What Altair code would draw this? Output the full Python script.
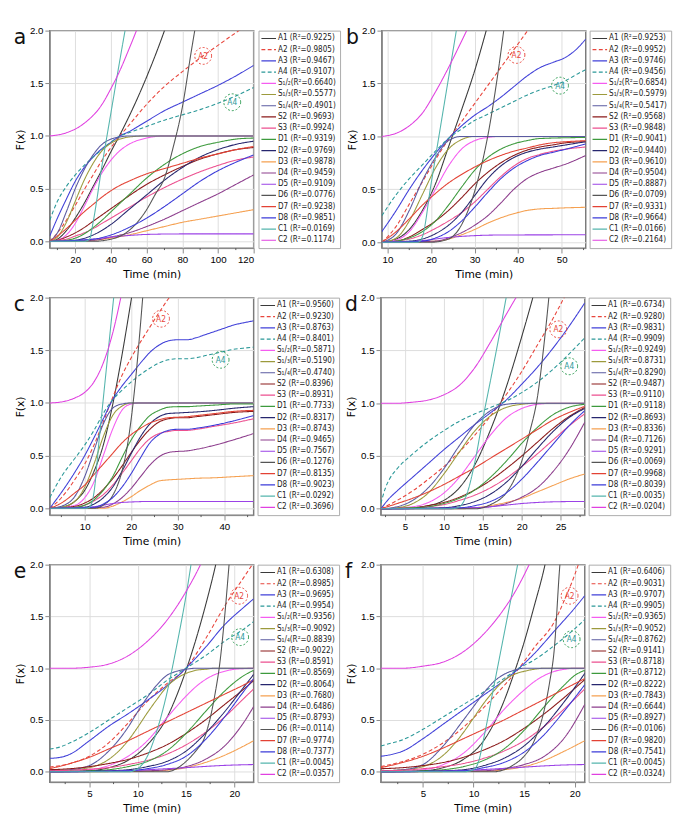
import altair as alt
import pandas as pd

FONT = "DejaVu Sans Condensed, Liberation Sans Narrow, DejaVu Sans, sans-serif"
W, H, LEGW = 210, 224, 84

SERIES = ["A1", "A2", "A3", "A4", "S1/2", "S1/3", "S1/4", "S2", "S3", "D1",
          "D2", "D3", "D4", "D5", "D6", "D7", "D8", "C1", "C2"]
COLORS = ["#3a3a3a", "#e8453c", "#4040d8", "#2a9898", "#f55cf0", "#9c9a3c",
          "#5a5aa0", "#8b1a1a", "#ec4f8f", "#3d9a3d", "#26266e", "#f5a050",
          "#8c3c8c", "#9b42e6", "#555555", "#e34234", "#3b3bd8", "#55b5ad", "#e040e0"]
DASHES = [[1, 0], [4, 2.5], [1, 0], [4, 2.5]] + [[1, 0]] * 15

R2_A = [0.9225, 0.9805, 0.9467, 0.9107, 0.6640, 0.5577, 0.4901, 0.9693, 0.9924, 0.9319,
        0.9769, 0.9878, 0.9459, 0.9109, 0.0776, 0.9238, 0.9851, 0.0169, 0.1174]
R2_B = [0.9253, 0.9952, 0.9746, 0.9456, 0.6854, 0.5979, 0.5417, 0.9568, 0.9848, 0.9041,
        0.9440, 0.9610, 0.9504, 0.8887, 0.0709, 0.9331, 0.9664, 0.0166, 0.2164]
R2_C = [0.9560, 0.9230, 0.8763, 0.8401, 0.5871, 0.5190, 0.4740, 0.8396, 0.8931, 0.7733,
        0.8317, 0.8743, 0.9465, 0.7567, 0.1276, 0.8135, 0.9023, 0.0292, 0.3696]
R2_D = [0.6734, 0.9280, 0.9831, 0.9909, 0.9249, 0.8731, 0.8290, 0.9487, 0.9110, 0.9118,
        0.8693, 0.8336, 0.7126, 0.9291, 0.0069, 0.9968, 0.8039, 0.0035, 0.0204]
R2_E = [0.6308, 0.8985, 0.9695, 0.9954, 0.9356, 0.9092, 0.8839, 0.9022, 0.8591, 0.8569,
        0.8064, 0.7680, 0.6486, 0.8793, 0.0114, 0.9774, 0.7377, 0.0045, 0.0357]
R2_F = [0.6406, 0.9031, 0.9707, 0.9905, 0.9365, 0.9052, 0.8762, 0.9141, 0.8718, 0.8712,
        0.8222, 0.7843, 0.6644, 0.8927, 0.0106, 0.9820, 0.7541, 0.0045, 0.0324]

CURVES_A = {
    "A1": [[5.7,0],[10,0.02],[15,0.1],[20,0.22],[25,0.36],[30,0.52],[35,0.68],[40,0.85],[45,1.01],[50,1.18],[60,1.56],[70,2.0],[75,2.25]],
    "A2": [[5.7,0],[10,0.08],[15,0.2],[20,0.34],[25,0.49],[30,0.63],[35,0.77],[40,0.89],[45,1.0],[50,1.1],[60,1.3],[70,1.47],[80,1.61],[90,1.74],[100,1.86],[110,1.98],[120,2.09]],
    "A3": [[5.7,0.05],[10,0.22],[15,0.4],[20,0.57],[25,0.7],[30,0.8],[35,0.88],[40,0.94],[45,1.0],[50,1.04],[60,1.14],[70,1.24],[80,1.32],[90,1.4],[100,1.48],[110,1.57],[120,1.67]],
    "A4": [[5.7,0.2],[10,0.38],[15,0.52],[20,0.63],[25,0.72],[30,0.8],[35,0.87],[40,0.94],[45,1.0],[50,1.03],[60,1.09],[70,1.15],[80,1.2],[90,1.25],[100,1.31],[110,1.38],[120,1.46]],
    "S1/2": [[5.7,0],[10,0.01],[15,0.06],[20,0.17],[25,0.33],[30,0.5],[35,0.65],[40,0.77],[45,0.86],[50,0.92],[60,0.98],[70,1.0],[120,1.0]],
    "S1/3": [[5.7,0],[10,0.04],[15,0.18],[20,0.38],[25,0.58],[30,0.74],[35,0.86],[40,0.93],[45,0.97],[50,0.99],[60,1.0],[120,1.0]],
    "S1/4": [[5.7,0],[10,0.08],[15,0.28],[20,0.5],[25,0.68],[30,0.82],[35,0.92],[40,0.97],[45,0.99],[50,1.0],[120,1.0]],
    "S2": [[5.7,0],[10,0.01],[15,0.04],[20,0.08],[25,0.13],[30,0.19],[35,0.25],[40,0.31],[45,0.37],[50,0.43],[60,0.54],[70,0.63],[80,0.71],[90,0.78],[100,0.83],[110,0.87],[120,0.89]],
    "S3": [[5.7,0],[10,0.01],[15,0.02],[20,0.05],[25,0.08],[30,0.12],[35,0.17],[40,0.22],[45,0.27],[50,0.32],[60,0.42],[70,0.51],[80,0.59],[90,0.66],[100,0.72],[110,0.77],[120,0.8]],
    "D1": [[5.7,0],[15,0.01],[20,0.03],[25,0.07],[30,0.13],[35,0.2],[40,0.28],[45,0.36],[50,0.44],[60,0.6],[70,0.73],[80,0.83],[90,0.9],[100,0.94],[110,0.97],[120,0.98]],
    "D2": [[5.7,0],[20,0.01],[30,0.06],[40,0.16],[50,0.3],[60,0.44],[70,0.58],[80,0.7],[90,0.8],[100,0.87],[110,0.92],[120,0.95]],
    "D3": [[5.7,0],[30,0.01],[40,0.03],[50,0.06],[60,0.1],[70,0.14],[80,0.18],[90,0.21],[100,0.24],[110,0.27],[120,0.3]],
    "D4": [[5.7,0],[30,0.01],[40,0.04],[50,0.08],[60,0.14],[70,0.21],[80,0.29],[90,0.37],[100,0.45],[110,0.54],[120,0.63]],
    "D5": [[5.7,0],[20,0.005],[30,0.02],[40,0.04],[50,0.055],[60,0.065],[80,0.07],[120,0.07]],
    "D6": [[5.7,0],[30,0],[40,0.02],[50,0.1],[60,0.3],[65,0.45],[70,0.6],[75,0.9],[80,1.27],[85,1.8],[90,2.3]],
    "D7": [[5.7,0],[10,0.05],[15,0.12],[20,0.2],[25,0.28],[30,0.35],[35,0.42],[40,0.48],[45,0.53],[50,0.57],[60,0.64],[70,0.69],[80,0.74],[90,0.79],[100,0.83],[110,0.87],[120,0.9]],
    "D8": [[5.7,0],[30,0.02],[40,0.06],[50,0.13],[60,0.22],[70,0.33],[80,0.45],[90,0.57],[100,0.67],[110,0.75],[120,0.82]],
    "C1": [[5.7,0],[25,0],[28,0.02],[30,0.18],[35,0.72],[40,1.22],[45,1.72],[50,2.2]],
    "C2": [[5.7,1.0],[15,1.03],[25,1.12],[35,1.3],[40,1.45],[45,1.62],[50,1.82],[55,2.03],[60,2.25]],
}

CURVES_B = {
    "A1": [[8.7,0],[12,0.03],[15,0.12],[18,0.3],[21,0.55],[24,0.9],[27,1.25],[30,1.62],[33,2.05],[35,2.35]],
    "A2": [[8.7,0],[12,0.15],[15,0.36],[18,0.57],[21,0.78],[24,0.97],[27,1.14],[30,1.31],[33,1.48],[36,1.65],[39,1.82],[42,1.99],[45,2.16]],
    "A3": [[8.7,0.1],[12,0.3],[15,0.5],[18,0.68],[21,0.84],[24,0.98],[27,1.1],[30,1.2],[33,1.28],[36,1.37],[39,1.47],[42,1.57],[45,1.65],[48,1.7],[51,1.75],[54,1.85],[55.5,1.92]],
    "A4": [[8.7,0.25],[12,0.45],[15,0.6],[18,0.73],[21,0.86],[24,0.98],[27,1.07],[30,1.15],[33,1.21],[36,1.27],[39,1.33],[42,1.39],[45,1.44],[48,1.48],[51,1.53],[54,1.6],[55.5,1.63]],
    "S1/2": [[8.7,0],[12,0.02],[15,0.1],[18,0.28],[21,0.5],[24,0.72],[27,0.88],[30,0.96],[33,0.99],[36,1.0],[55.5,1.0]],
    "S1/3": [[8.7,0],[12,0.04],[15,0.2],[18,0.45],[21,0.7],[24,0.88],[27,0.97],[30,1.0],[55.5,1.0]],
    "S1/4": [[8.7,0],[12,0.08],[15,0.3],[18,0.58],[21,0.8],[24,0.96],[27,1.0],[55.5,1.0]],
    "S2": [[8.7,0],[12,0.01],[15,0.05],[18,0.12],[21,0.2],[24,0.3],[27,0.42],[30,0.55],[33,0.66],[36,0.75],[39,0.82],[42,0.87],[45,0.9],[48,0.92],[51,0.94],[55.5,0.95]],
    "S3": [[8.7,0],[12,0.01],[15,0.03],[18,0.07],[21,0.13],[24,0.2],[27,0.28],[30,0.38],[33,0.5],[36,0.62],[39,0.72],[42,0.79],[45,0.83],[48,0.86],[51,0.88],[55.5,0.9]],
    "D1": [[8.7,0],[12,0.01],[15,0.04],[18,0.1],[21,0.2],[24,0.35],[27,0.52],[30,0.68],[33,0.8],[36,0.88],[39,0.93],[42,0.96],[45,0.98],[55.5,0.99]],
    "D2": [[8.7,0],[15,0.01],[18,0.03],[21,0.08],[24,0.16],[27,0.28],[30,0.44],[33,0.6],[36,0.72],[39,0.8],[42,0.85],[45,0.88],[48,0.9],[51,0.92],[55.5,0.95]],
    "D3": [[8.7,0],[21,0.01],[24,0.03],[27,0.07],[30,0.12],[33,0.18],[36,0.23],[39,0.27],[42,0.3],[45,0.315],[48,0.32],[51,0.325],[55.5,0.33]],
    "D4": [[8.7,0],[21,0.01],[24,0.04],[27,0.09],[30,0.16],[33,0.25],[36,0.37],[39,0.5],[42,0.6],[45,0.66],[48,0.7],[51,0.74],[55.5,0.82]],
    "D5": [[8.7,0],[15,0.005],[18,0.015],[21,0.03],[24,0.045],[27,0.055],[30,0.062],[36,0.068],[55.5,0.07]],
    "D6": [[8.7,0],[20,0],[24,0.03],[26,0.1],[28,0.25],[30,0.48],[32,0.8],[33,1.0],[35,1.5],[37,2.1]],
    "D7": [[8.7,0],[12,0.1],[15,0.22],[18,0.35],[21,0.46],[24,0.56],[27,0.64],[30,0.71],[33,0.77],[36,0.82],[39,0.86],[42,0.89],[45,0.92],[48,0.94],[51,0.95],[55.5,0.96]],
    "D8": [[8.7,0],[18,0.01],[21,0.04],[24,0.1],[27,0.2],[30,0.33],[33,0.47],[36,0.6],[39,0.7],[42,0.77],[45,0.82],[48,0.85],[51,0.88],[55.5,0.93]],
    "C1": [[8.7,0],[17,0],[18,0.05],[20,0.55],[22,1.05],[24,1.55],[26,2.05]],
    "C2": [[8.7,1.0],[12,1.03],[15,1.1],[18,1.22],[21,1.42],[24,1.65],[27,1.9],[29,2.07]],
}

CURVES_C = {
    "A1": [[2.5,0],[5,0.01],[8,0.07],[10,0.17],[12,0.35],[14,0.6],[16,0.98],[18,1.45],[20,1.98],[21,2.25]],
    "A2": [[2.5,0],[5,0.1],[8,0.28],[10,0.42],[12,0.6],[14,0.82],[16,1.05],[18,1.26],[20,1.43],[22,1.58],[24,1.72],[26,1.86],[28,1.99],[30,2.1]],
    "A3": [[2.5,0],[5,0.15],[8,0.35],[10,0.5],[12,0.67],[14,0.85],[16,1.03],[18,1.16],[20,1.27],[22,1.38],[24,1.48],[26,1.55],[28,1.59],[30,1.6],[32,1.6],[34,1.62],[36,1.65],[38,1.68],[40,1.71],[42,1.74],[44,1.76],[46.3,1.78]],
    "A4": [[2.5,0.1],[5,0.3],[8,0.48],[10,0.6],[12,0.74],[14,0.9],[16,1.03],[18,1.12],[20,1.2],[22,1.27],[24,1.33],[26,1.38],[28,1.41],[30,1.42],[32,1.42],[34,1.43],[36,1.45],[38,1.47],[40,1.49],[42,1.51],[44,1.52],[46.3,1.53]],
    "S1/2": [[2.5,0],[8,0.03],[10,0.1],[12,0.25],[14,0.5],[16,0.75],[18,0.93],[20,0.99],[22,1.0],[46.3,1.0]],
    "S1/3": [[2.5,0],[5,0.01],[8,0.07],[10,0.2],[12,0.42],[14,0.68],[16,0.88],[18,0.97],[20,1.0],[46.3,1.0]],
    "S1/4": [[2.5,0],[5,0.02],[8,0.12],[10,0.3],[12,0.55],[14,0.8],[16,0.95],[18,0.99],[20,1.0],[46.3,1.0]],
    "S2": [[2.5,0],[8,0.02],[10,0.05],[12,0.1],[14,0.18],[16,0.28],[18,0.4],[20,0.53],[22,0.65],[24,0.75],[26,0.82],[28,0.85],[30,0.86],[32,0.86],[34,0.87],[38,0.89],[42,0.91],[46.3,0.92]],
    "S3": [[2.5,0],[8,0.01],[10,0.03],[12,0.07],[14,0.13],[16,0.22],[18,0.33],[20,0.45],[22,0.57],[24,0.66],[26,0.71],[28,0.73],[30,0.74],[32,0.74],[34,0.75],[38,0.78],[42,0.81],[46.3,0.85]],
    "D1": [[2.5,0],[8,0.01],[10,0.03],[12,0.08],[14,0.17],[16,0.3],[18,0.48],[20,0.65],[22,0.78],[24,0.88],[26,0.93],[28,0.96],[30,0.965],[32,0.965],[34,0.97],[38,0.98],[42,0.99],[46.3,0.99]],
    "D2": [[2.5,0],[10,0.01],[12,0.04],[14,0.1],[16,0.2],[18,0.35],[20,0.52],[22,0.68],[24,0.8],[26,0.87],[28,0.9],[30,0.905],[32,0.91],[34,0.915],[38,0.93],[42,0.95],[46.3,0.965]],
    "D3": [[2.5,0],[14,0],[16,0.02],[18,0.06],[20,0.11],[22,0.17],[24,0.22],[26,0.26],[28,0.27],[30,0.275],[32,0.28],[34,0.285],[38,0.29],[42,0.3],[46.3,0.31]],
    "D4": [[2.5,0],[14,0.01],[16,0.04],[18,0.1],[20,0.19],[22,0.3],[24,0.41],[26,0.49],[28,0.53],[30,0.54],[32,0.545],[34,0.56],[38,0.6],[42,0.65],[46.3,0.71]],
    "D5": [[2.5,0],[8,0],[10,0.005],[12,0.015],[14,0.03],[16,0.045],[18,0.055],[20,0.06],[24,0.065],[46.3,0.065]],
    "D6": [[2.5,0],[12,0],[14,0.03],[16,0.12],[18,0.35],[19,0.55],[20,0.85],[21,1.25],[22,1.75],[23,2.3]],
    "D7": [[2.5,0],[5,0.05],[8,0.15],[10,0.22],[12,0.32],[14,0.42],[16,0.52],[18,0.62],[20,0.7],[22,0.76],[24,0.81],[26,0.84],[28,0.86],[30,0.865],[32,0.87],[34,0.88],[38,0.9],[42,0.92],[46.3,0.93]],
    "D8": [[2.5,0],[12,0.01],[14,0.04],[16,0.1],[18,0.2],[20,0.33],[22,0.48],[24,0.62],[26,0.7],[28,0.74],[30,0.75],[32,0.75],[34,0.76],[38,0.79],[42,0.83],[46.3,0.88]],
    "C1": [[2.5,0],[10,0],[11,0.01],[12,0.15],[13,0.6],[14,1.04],[15,1.47],[16,1.9],[17,2.33]],
    "C2": [[2.5,1.0],[5,1.01],[8,1.05],[10,1.1],[12,1.2],[14,1.38],[16,1.66],[18,2.05]],
}

CURVES_D = {
    "A1": [[1.9,0],[6,0.01],[8,0.03],[10,0.08],[12,0.2],[14,0.42],[16,0.75],[18,1.15],[20,1.63],[21.5,2.02],[22.5,2.3]],
    "A2": [[1.9,0],[4,0.08],[6,0.17],[8,0.28],[10,0.4],[12,0.54],[14,0.7],[16,0.88],[18,1.08],[20,1.3],[22,1.55],[24,1.8],[26,2.08]],
    "A3": [[1.9,0],[3,0.1],[4,0.17],[6,0.3],[8,0.43],[10,0.56],[12,0.68],[14,0.8],[16,0.91],[18,1.03],[20,1.18],[22,1.34],[24,1.52],[26,1.72],[28.1,1.95]],
    "A4": [[1.9,0.05],[2.5,0.2],[3,0.28],[4,0.38],[6,0.52],[8,0.64],[10,0.74],[12,0.83],[14,0.9],[16,0.96],[18,1.02],[20,1.1],[22,1.2],[24,1.32],[26,1.46],[28.1,1.62]],
    "S1/2": [[1.9,0],[6,0.02],[8,0.06],[10,0.15],[12,0.3],[14,0.5],[16,0.7],[18,0.86],[20,0.95],[22,0.99],[24,1.0],[28.1,1.0]],
    "S1/3": [[1.9,0],[4,0.01],[6,0.05],[8,0.15],[10,0.33],[12,0.54],[14,0.74],[16,0.88],[18,0.96],[20,0.99],[22,1.0],[28.1,1.0]],
    "S1/4": [[1.9,0],[4,0.02],[6,0.08],[8,0.2],[10,0.38],[12,0.6],[14,0.8],[16,0.93],[18,0.99],[20,1.0],[28.1,1.0]],
    "S2": [[1.9,0],[6,0.01],[8,0.03],[10,0.06],[12,0.11],[14,0.18],[16,0.27],[18,0.38],[20,0.5],[22,0.63],[24,0.76],[26,0.87],[28.1,0.96]],
    "S3": [[1.9,0],[6,0.01],[8,0.02],[10,0.04],[12,0.08],[14,0.13],[16,0.2],[18,0.29],[20,0.4],[22,0.52],[24,0.65],[26,0.78],[28.1,0.9]],
    "D1": [[1.9,0],[6,0.01],[8,0.02],[10,0.05],[12,0.1],[14,0.18],[16,0.3],[18,0.45],[20,0.62],[22,0.77],[24,0.89],[26,0.96],[28.1,0.99]],
    "D2": [[1.9,0],[10,0.01],[12,0.03],[14,0.07],[16,0.14],[18,0.25],[20,0.4],[22,0.57],[24,0.73],[26,0.86],[28.1,0.95]],
    "D3": [[1.9,0],[12,0],[14,0.01],[16,0.03],[18,0.06],[20,0.1],[22,0.16],[24,0.22],[26,0.28],[28.1,0.33]],
    "D4": [[1.9,0],[14,0.01],[16,0.02],[18,0.05],[20,0.11],[22,0.2],[24,0.35],[26,0.55],[28.1,0.82]],
    "D5": [[1.9,0],[10,0],[12,0.005],[14,0.01],[16,0.02],[18,0.035],[20,0.05],[22,0.06],[24,0.066],[28.1,0.07]],
    "D6": [[1.9,0],[14,0],[16,0.04],[18,0.15],[19,0.27],[20,0.45],[21,0.72],[22,1.05],[23,1.65],[24,2.4]],
    "D7": [[1.9,0],[4,0.05],[6,0.1],[8,0.16],[10,0.23],[12,0.31],[14,0.39],[16,0.48],[18,0.57],[20,0.66],[22,0.75],[24,0.84],[26,0.91],[28.1,0.97]],
    "D8": [[1.9,0],[12,0.01],[14,0.03],[16,0.07],[18,0.15],[20,0.28],[22,0.44],[24,0.61],[26,0.78],[28.1,0.93]],
    "C1": [[1.9,0],[11,0],[12,0.02],[13,0.15],[14,0.45],[15,0.85],[16,1.22],[17,1.6],[18,2.0],[19,2.4]],
    "C2": [[1.9,1.0],[4,1.0],[6,1.01],[8,1.03],[10,1.08],[12,1.17],[14,1.34],[16,1.58],[18,1.84],[19.5,2.03]],
}

CURVES_E = {
    "A1": [[0.9,0],[5,0.01],[7,0.04],[9,0.11],[11,0.26],[13,0.52],[15,0.98],[16,1.27],[17,1.6],[18,1.97],[19,2.4]],
    "A2": [[0.9,0.045],[3,0.08],[5,0.15],[7,0.28],[9,0.47],[11,0.68],[13,0.85],[15,1.0],[17,1.28],[19,1.6],[21,1.88],[22,2.02]],
    "A3": [[0.9,0.13],[2,0.14],[3,0.17],[5,0.3],[7,0.44],[9,0.56],[11,0.69],[13,0.83],[15,1.0],[17,1.2],[19,1.42],[21,1.59],[22,1.67]],
    "A4": [[0.9,0.22],[2,0.24],[3,0.28],[5,0.38],[7,0.5],[9,0.62],[11,0.74],[13,0.88],[15,1.0],[17,1.12],[19,1.26],[21,1.38],[22,1.45]],
    "S1/2": [[0.9,0],[5,0.02],[7,0.06],[9,0.15],[11,0.3],[13,0.52],[15,0.73],[16,0.82],[17,0.89],[18,0.94],[19,0.97],[20,0.99],[22,1.0]],
    "S1/3": [[0.9,0.01],[3,0.02],[5,0.04],[7,0.12],[9,0.3],[10,0.43],[11,0.57],[12,0.7],[13,0.82],[14,0.9],[15,0.95],[16,0.98],[17,0.99],[18,1.0],[22,1.0]],
    "S1/4": [[0.9,0.01],[3,0.02],[5,0.06],[7,0.2],[9,0.43],[10,0.58],[11,0.72],[12,0.84],[13,0.93],[14,0.97],[15,0.99],[16,1.0],[22,1.0]],
    "S2": [[0.9,0.02],[3,0.03],[5,0.05],[7,0.08],[9,0.12],[11,0.18],[13,0.26],[15,0.37],[17,0.5],[19,0.65],[21,0.8],[22,0.88]],
    "S3": [[0.9,0.01],[3,0.015],[5,0.025],[7,0.04],[9,0.07],[11,0.11],[13,0.17],[15,0.26],[17,0.38],[19,0.53],[21,0.71],[22,0.8]],
    "D1": [[0.9,0],[5,0.01],[7,0.02],[9,0.05],[11,0.1],[13,0.2],[15,0.37],[17,0.58],[19,0.78],[21,0.93],[22,0.98]],
    "D2": [[0.9,0],[7,0.01],[9,0.02],[11,0.05],[13,0.1],[15,0.2],[17,0.37],[19,0.58],[21,0.82],[22,0.94]],
    "D3": [[0.9,0],[11,0.005],[13,0.015],[15,0.04],[17,0.09],[19,0.16],[21,0.25],[22,0.3]],
    "D4": [[0.9,0],[11,0.01],[13,0.02],[15,0.05],[17,0.12],[19,0.25],[21,0.48],[22,0.63]],
    "D5": [[0.9,0],[5,0.002],[9,0.01],[11,0.02],[13,0.03],[15,0.04],[17,0.052],[19,0.062],[21,0.068],[22,0.07]],
    "D6": [[0.9,0],[13,0],[14,0.03],[15,0.1],[16,0.2],[17,0.35],[18,0.75],[18.5,1.05],[19,1.5],[19.5,2.05],[20,2.6]],
    "D7": [[0.9,0.03],[3,0.08],[5,0.14],[7,0.22],[9,0.3],[11,0.39],[13,0.48],[15,0.57],[17,0.66],[19,0.75],[21,0.84],[22,0.89]],
    "D8": [[0.9,0],[9,0.01],[11,0.03],[13,0.07],[15,0.15],[17,0.31],[19,0.53],[21,0.78],[22,0.9]],
    "C1": [[0.9,0],[9,0],[10,0.03],[11,0.15],[12,0.4],[13,0.75],[14,1.2],[15,1.7],[16,2.3]],
    "C2": [[0.9,1.0],[3,1.0],[5,1.01],[7,1.04],[9,1.12],[11,1.26],[13,1.46],[15,1.74],[16.5,2.0],[17,2.1]],
}

CURVES_F = {
    "A1": [[0.83,0],[5,0.01],[7,0.04],[9,0.12],[11,0.3],[13,0.68],[14,0.95],[15,1.25],[16,1.6],[17,1.97],[17.5,2.2]],
    "A2": [[0.83,0.05],[3,0.1],[5,0.17],[7,0.28],[9,0.43],[11,0.62],[13,0.83],[14.5,1.0],[16,1.2],[18,1.45],[19,1.66],[20,1.9],[20.5,2.04]],
    "A3": [[0.83,0.15],[2,0.17],[3,0.2],[5,0.32],[7,0.46],[9,0.6],[11,0.74],[13,0.88],[14.5,1.0],[16,1.14],[18,1.36],[20,1.58],[21,1.7]],
    "A4": [[0.83,0.25],[2,0.28],[3,0.31],[5,0.41],[7,0.53],[9,0.65],[11,0.77],[13,0.9],[14.5,1.0],[16,1.08],[18,1.22],[20,1.38],[21,1.47]],
    "S1/2": [[0.83,0],[5,0.02],[7,0.07],[9,0.18],[11,0.37],[13,0.6],[14,0.7],[15,0.79],[16,0.87],[17,0.93],[18,0.97],[19,0.99],[20,1.0],[21,1.0]],
    "S1/3": [[0.83,0.01],[3,0.02],[5,0.05],[7,0.16],[9,0.38],[10,0.52],[11,0.66],[12,0.78],[13,0.88],[14,0.94],[15,0.97],[16,0.99],[17,1.0],[21,1.0]],
    "S1/4": [[0.83,0.01],[3,0.02],[5,0.07],[7,0.25],[9,0.5],[10,0.63],[11,0.76],[12,0.87],[13,0.94],[14,0.98],[15,1.0],[21,1.0]],
    "S2": [[0.83,0.03],[3,0.04],[5,0.06],[7,0.09],[9,0.14],[11,0.21],[13,0.3],[15,0.42],[17,0.56],[19,0.72],[21,0.89]],
    "S3": [[0.83,0.01],[3,0.015],[5,0.03],[7,0.05],[9,0.08],[11,0.13],[13,0.2],[15,0.3],[17,0.44],[19,0.61],[21,0.8]],
    "D1": [[0.83,0],[5,0.01],[7,0.02],[9,0.05],[11,0.11],[13,0.22],[15,0.4],[17,0.63],[19,0.84],[20,0.93],[21,0.98]],
    "D2": [[0.83,0],[7,0.01],[9,0.02],[11,0.06],[13,0.13],[15,0.25],[17,0.44],[19,0.68],[21,0.95]],
    "D3": [[0.83,0],[11,0.005],[13,0.02],[15,0.05],[17,0.11],[19,0.2],[21,0.3]],
    "D4": [[0.83,0],[11,0.01],[13,0.03],[15,0.07],[17,0.15],[19,0.33],[21,0.65]],
    "D5": [[0.83,0],[5,0.003],[9,0.012],[11,0.022],[13,0.033],[15,0.045],[17,0.057],[19,0.066],[21,0.07]],
    "D6": [[0.83,0],[12,0],[13,0.02],[14,0.07],[15,0.15],[16,0.3],[17,0.6],[17.5,0.85],[18,1.2],[18.5,1.95],[19,2.5]],
    "D7": [[0.83,0.04],[3,0.09],[5,0.15],[7,0.23],[9,0.32],[11,0.41],[13,0.5],[15,0.6],[17,0.7],[19,0.8],[21,0.9]],
    "D8": [[0.83,0],[9,0.01],[11,0.04],[13,0.09],[15,0.19],[17,0.36],[19,0.59],[21,0.84]],
    "C1": [[0.83,0],[9,0],[10,0.02],[10.5,0.1],[11,0.32],[12,0.82],[13,1.32],[14,1.82],[14.5,2.07]],
    "C2": [[0.83,1.0],[3,1.0],[5,1.02],[7,1.06],[9,1.16],[11,1.33],[13,1.57],[14,1.72],[15,1.9],[15.5,2.0],[16,2.1]],
}

XDOM = {"a": [5.7, 120], "b": [8.7, 55.5], "c": [2.5, 46.3], "d": [1.9, 28.1], "e": [0.9, 22], "f": [0.83, 21]}
YDOM = {"a": [-0.065, 2.0], "b": [-0.056, 2.0], "c": [-0.065, 2.0], "d": [-0.06, 2.0], "e": [-0.1, 2.0], "f": [-0.1, 2.0]}
XTICKS = {"a": [20, 40, 60, 80, 100, 120], "b": [10, 20, 30, 40, 50], "c": [10, 20, 30, 40],
          "d": [5, 10, 15, 20, 25], "e": [5, 10, 15, 20], "f": [5, 10, 15, 20]}
XMINOR = {"a": [10, 30, 50, 70, 90, 110], "b": [15, 25, 35, 45, 55], "c": [5, 15, 25, 35, 45],
          "d": [2.5, 7.5, 12.5, 17.5, 22.5, 27.5], "e": [2.5, 7.5, 12.5, 17.5], "f": [2.5, 7.5, 12.5, 17.5]}
ANN_A2 = {"a": [91.7, 1.76], "b": [39.6, 1.77], "c": [26.4, 1.80], "d": [24.7, 1.70], "e": [20.5, 1.70], "f": [19.5, 1.70]}
ANN_A4 = {"a": [108.0, 1.32], "b": [49.6, 1.48], "c": [39.2, 1.41], "d": [26.1, 1.35], "e": [20.6, 1.30], "f": [19.7, 1.28]}

SUBS = {"S1/2": "S\u2081/\u2082", "S1/3": "S\u2081/\u2083", "S1/4": "S\u2081/\u2084"}


def label(s, r):
    if s in SUBS:
        return f"{SUBS[s]}(R\u00b2={r:.4f})"
    return f"{s} (R\u00b2={r:.4f})"


color = alt.Color("series:N", scale=alt.Scale(domain=SERIES, range=COLORS), legend=None)
dash = alt.StrokeDash("series:N", scale=alt.Scale(domain=SERIES, range=DASHES), legend=None)


def make_panel(letter, curves, r2):
    rows = []
    for s in SERIES:
        for x, y in curves[s]:
            rows.append({"series": s, "x": x, "y": y})
    df = pd.DataFrame(rows)
    xs = alt.Scale(domain=XDOM[letter], nice=False, zero=False)
    ys = alt.Scale(domain=YDOM[letter], nice=False, zero=False)
    lines = alt.Chart(df).mark_line(clip=True, strokeWidth=1.1, interpolate="monotone").encode(
        x=alt.X("x:Q", scale=xs, axis=alt.Axis(values=XTICKS[letter], title="Time (min)", format="d",
                                              titleFontWeight="normal", titleFont="DejaVu Sans")),
        y=alt.Y("y:Q", scale=ys, axis=alt.Axis(values=[0, 0.5, 1, 1.5, 2], format=".1f", title="F(x)",
                                              titleFontWeight="normal", titleFont="DejaVu Sans")),
        color=color, strokeDash=dash)
    mdf = pd.DataFrame({"x": XMINOR[letter]})
    minor = alt.Chart(mdf).mark_rule(color="#555", strokeWidth=1).encode(
        x=alt.X("x:Q", scale=xs), y=alt.value(H), y2=alt.value(H + 2))
    layers = [lines, minor]
    for name, pos, col in [("A2", ANN_A2[letter], "#e8453c"), ("A4", ANN_A4[letter], "#2a9a50")]:
        adf = pd.DataFrame({"x": [pos[0]], "y": [pos[1]], "name": [name]})
        layers.append(alt.Chart(adf).mark_point(shape="circle", filled=False, size=300, strokeDash=[2, 2],
                                                strokeWidth=1, color=col, opacity=1).encode(
            x=alt.X("x:Q", scale=xs), y=alt.Y("y:Q", scale=ys)))
        tcol = "#e8453c" if name == "A2" else "#2a9898"
        layers.append(alt.Chart(adf).mark_text(fontSize=8.5, font=FONT, color=tcol).encode(
            x=alt.X("x:Q", scale=xs), y=alt.Y("y:Q", scale=ys), text="name:N"))
    ldf0 = pd.DataFrame({"t": [letter]})
    layers.append(alt.Chart(ldf0).mark_text(fontSize=21, align="left", baseline="alphabetic",
                                            font="DejaVu Sans", color="#111").encode(
        x=alt.value(-37), y=alt.value(14), text="t:N"))
    plot = alt.layer(*layers).properties(width=W, height=H,
                                         view=alt.ViewBackground(stroke="#7a7a7a", strokeWidth=1.5))

    ldf = pd.DataFrame({"series": SERIES, "idx": list(range(len(SERIES))),
                        "label": [label(s, r) for s, r in zip(SERIES, r2)]})
    ly = alt.Y("idx:Q", scale=alt.Scale(domain=[-0.7, 18.7], reverse=True, nice=False, zero=False), axis=None)
    sym = alt.Chart(ldf).mark_rule(strokeWidth=1.2).encode(
        x=alt.value(3), x2=alt.value(18), y=ly, color=color, strokeDash=dash)
    txt = alt.Chart(ldf).mark_text(align="left", baseline="middle", fontSize=8.3, font=FONT, color="#222").encode(
        x=alt.value(20), y=ly, text="label:N")
    leg = alt.layer(sym, txt).properties(width=LEGW, height=H,
                                         view=alt.ViewBackground(stroke="#aaaaaa", strokeWidth=1))
    return alt.hconcat(plot, leg, spacing=2).resolve_scale(x="independent", y="independent")


pa = make_panel("a", CURVES_A, R2_A)
pb = make_panel("b", CURVES_B, R2_B)
pc = make_panel("c", CURVES_C, R2_C)
pd_ = make_panel("d", CURVES_D, R2_D)
pe = make_panel("e", CURVES_E, R2_E)
pf = make_panel("f", CURVES_F, R2_F)

chart = alt.vconcat(
    alt.hconcat(pa, pb, spacing=4).resolve_scale(x="independent", y="independent"),
    alt.hconcat(pc, pd_, spacing=4).resolve_scale(x="independent", y="independent"),
    alt.hconcat(pe, pf, spacing=4).resolve_scale(x="independent", y="independent"),
    spacing=12,
).resolve_scale(x="independent", y="independent").configure_axis(
    labelFont=FONT, titleFont="DejaVu Sans", labelFontSize=9.5, titleFontSize=9.5, titleFontWeight="normal",
    labelColor="#222", titleColor="#222", tickColor="#555", tickSize=3, domain=False, grid=False,
    labelPadding=2, titlePadding=3,
).configure(background="white")

chart.save("out.html", embed_options={"renderer": "svg", "actions": False})
